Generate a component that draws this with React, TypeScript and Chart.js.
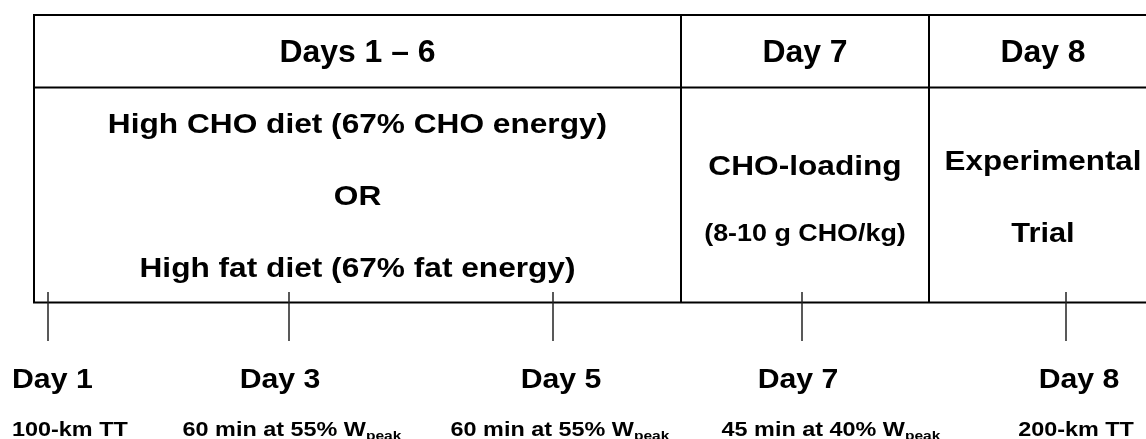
import React, { useEffect, useRef } from 'react';
import { Chart, registerables } from 'chart.js';

Chart.register(...registerables);

// ---- content ----
const headerLabels = ['Days 1 – 6', 'Day 7', 'Day 8'];
const dietLines = ['High CHO diet (67% CHO energy)', 'OR', 'High fat diet (67% fat energy)'];
const loadingLines = ['CHO-loading', '(8-10 g CHO/kg)'];
const trialLines = ['Experimental', 'Trial'];
const timelineDays = ['Day 1', 'Day 3', 'Day 5', 'Day 7', 'Day 8'];
const sessionMain = ['100-km TT', '60 min at 55% W', '60 min at 55% W', '45 min at 40% W', '200-km TT'];
const sessionSub = ['', 'peak', 'peak', 'peak', ''];
// schematic timeline positions (x units of the diagram scale)
const timelinePos = [48, 289, 553, 802, 1066];
// table column boundaries (diagram x units)
const columnEdges = [34, 681, 929, 1157];

const FONT = '"Liberation Sans", Arial, Helvetica, sans-serif';

function drawText(
  ctx: CanvasRenderingContext2D,
  text: string,
  sub: string,
  x: number,
  y: number,
  size: number,
  stretch: number,
  align: 'center' | 'left'
) {
  ctx.save();
  ctx.font = `bold ${size}px ${FONT}`;
  const w1 = ctx.measureText(text).width;
  const subSize = Math.round(size * 0.68);
  let w2 = 0;
  if (sub) {
    ctx.font = `bold ${subSize}px ${FONT}`;
    w2 = ctx.measureText(sub).width;
  }
  const total = (w1 + w2) * stretch;
  const left = align === 'center' ? x - total / 2 : x;
  ctx.translate(left, y);
  ctx.scale(stretch, 1);
  ctx.textAlign = 'left';
  ctx.textBaseline = 'alphabetic';
  ctx.fillStyle = '#000';
  ctx.font = `bold ${size}px ${FONT}`;
  ctx.fillText(text, 0, 0);
  if (sub) {
    ctx.font = `bold ${subSize}px ${FONT}`;
    ctx.fillText(sub, w1, size * 0.2);
  }
  ctx.restore();
}

const diagramPlugin = {
  id: 'diagram',
  beforeDatasetsDraw(chart: any) {
    const ctx: CanvasRenderingContext2D = chart.ctx;
    const xs = chart.scales.x;
    const ys = chart.scales.y;
    const X = (v: number) => xs.getPixelForValue(v);
    const Y = (v: number) => ys.getPixelForValue(v);

    const top = 15;
    const headBottom = 87.5;
    const bottom = 302.5;

    ctx.save();
    ctx.strokeStyle = '#000';
    ctx.lineWidth = 2;
    ctx.beginPath();
    [top, headBottom, bottom].forEach((yy) => {
      ctx.moveTo(X(columnEdges[0]) - 1, Y(yy));
      ctx.lineTo(X(columnEdges[3]), Y(yy));
    });
    columnEdges.forEach((xx) => {
      ctx.moveTo(X(xx), Y(top));
      ctx.lineTo(X(xx), Y(bottom));
    });
    ctx.stroke();
    ctx.restore();

    const centers = [0, 1, 2].map((i) => (columnEdges[i] + columnEdges[i + 1]) / 2);

    headerLabels.forEach((t, i) => drawText(ctx, t, '', X(centers[i]), Y(62), 31, 1.03, 'center'));

    const dietBase = [133, 205, 277];
    dietLines.forEach((t, i) => drawText(ctx, t, '', X(centers[0]), Y(dietBase[i]), 28, 1.13, 'center'));
    drawText(ctx, loadingLines[0], '', X(centers[1]), Y(175), 28, 1.13, 'center');
    drawText(ctx, loadingLines[1], '', X(centers[1]), Y(241), 24, 1.12, 'center');
    drawText(ctx, trialLines[0], '', X(centers[2]), Y(170), 28, 1.12, 'center');
    drawText(ctx, trialLines[1], '', X(centers[2]), Y(242), 28, 1.1, 'center');

    const dayX = [12, 280, 561, 798, 1079];
    const sessX = [12, 292, 560, 831, 1076];
    timelineDays.forEach((t, i) =>
      drawText(ctx, t, '', X(dayX[i]), Y(388), 28, 1.08, i === 0 ? 'left' : 'center')
    );
    sessionMain.forEach((t, i) =>
      drawText(ctx, t, sessionSub[i], X(sessX[i]), Y(436), 19.5, 1.2, i === 0 ? 'left' : 'center')
    );
  },
};

export default function App() {
  const ref = useRef<HTMLCanvasElement | null>(null);

  useEffect(() => {
    document.body.style.margin = '0';
    const canvas = ref.current;
    if (!canvas) return;
    const chart = new Chart(canvas, {
      type: 'scatter',
      data: {
        datasets: [
          {
            label: 'Sessions',
            data: timelinePos.map((x) => ({ x, y: 316.5 })),
            pointStyle: 'line',
            rotation: 90,
            radius: 24.5,
            hoverRadius: 24.5,
            borderWidth: 1.5,
            borderColor: '#222',
            backgroundColor: '#222',
          },
        ],
      },
      options: {
        responsive: false,
        maintainAspectRatio: false,
        animation: false,
        events: [],
        layout: { padding: 0, autoPadding: false },
        scales: {
          x: { type: 'linear', min: 0, max: 1146, display: false },
          y: { type: 'linear', min: 0, max: 439, reverse: true, display: false },
        },
        plugins: {
          legend: { display: false },
          tooltip: { enabled: false },
        },
      },
      plugins: [diagramPlugin],
    });
    return () => chart.destroy();
  }, []);

  return (
    <div style={{ position: 'absolute', left: 0, top: 0, width: 1146, height: 439, background: '#fff' }}>
      <canvas ref={ref} width={1146} height={439} style={{ display: 'block' }} />
    </div>
  );
}
